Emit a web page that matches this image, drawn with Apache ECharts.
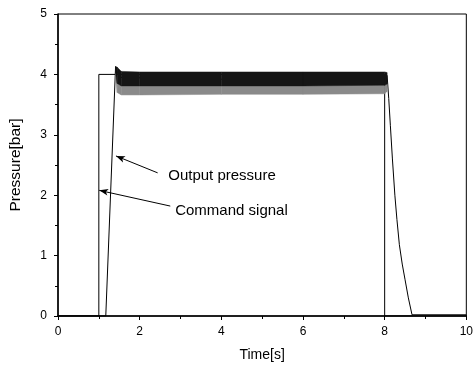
<!DOCTYPE html>
<html>
<head>
<meta charset="utf-8">
<script src="https://cdn.jsdelivr.net/npm/echarts@6/dist/echarts.min.js"></script>
<style>
html,body{margin:0;padding:0;background:#fff;}
#chart{width:476px;height:367px;}
</style>
</head>
<body>
<div id="chart"></div>
<script>
// ---- data ----
const xTicks = [0, 2, 4, 6, 8, 10];
const yTicks = [0, 1, 2, 3, 4, 5];

// Command signal (step)
const commandTimes  = [0, 1.0, 1.0, 8.0, 8.0, 10];
const commandValues = [0, 0,   4.0, 4.0, 0,   0];

// Output pressure: rise part (the ripple plateau is drawn as an envelope band)
const outputRiseTimes  = [0, 1.17, 1.41, 1.5, 4.0, 8.0, 8.06];
const outputRiseValues = [0, 0,    4.13, 3.95, 3.92, 3.92, 3.98];
// Output pressure: decay after the command drops
const outputDecayTimes  = [8.06, 8.1, 8.14, 8.19, 8.25, 8.3, 8.36, 8.43, 8.5, 8.58, 8.67, 10];
const outputDecayValues = [3.98, 3.6, 3.15, 2.6,  2.0,  1.6, 1.18, 0.86, 0.6, 0.3,  0.02, 0.02];

// Ripple envelope of the output pressure on the plateau
const bandTimes      = [1.41, 1.45, 1.55, 2.0, 4.0, 6.0, 8.0, 8.06];
const bandUpper      = [4.13, 4.12, 4.05, 4.04, 4.04, 4.04, 4.04, 4.03];
const bandDarkLower  = [4.02, 3.85, 3.81, 3.81, 3.81, 3.81, 3.82, 3.84];
const bandLightLower = [3.98, 3.70, 3.66, 3.66, 3.67, 3.67, 3.68, 3.72];

// annotation anchors (data coords): arrow tip, arrow tail, text start
const annOutput  = {tip: [1.42, 2.65], tail: [2.44, 2.37], text: [2.70, 2.32], label: 'Output pressure'};
const annCommand = {tip: [1.01, 2.08], tail: [2.75, 1.82], text: [2.87, 1.74], label: 'Command signal'};

// ---- build ----
const zip = (xs, ys) => xs.map((x, i) => [x, ys[i]]);
const FONT = 'Liberation Sans, Arial, sans-serif';

function bandSeries(name, upper, lower, color) {
  const data = bandTimes.map((t, i) => [t, upper[i], lower[i]]);
  return {
    name: name, type: 'custom', z: 4, silent: true,
    encode: {x: 0, y: [1, 2]},
    data: data,
    renderItem: function (params, api) {
      const i = params.dataIndex;
      if (i >= data.length - 1) return null;
      const a = data[i], b = data[i + 1];
      const pts = [
        api.coord([a[0], a[1]]), api.coord([b[0], b[1]]),
        api.coord([b[0], b[2]]), api.coord([a[0], a[2]])
      ];
      return {
        type: 'polygon',
        shape: {points: pts},
        style: {fill: color, stroke: color, lineWidth: 0.5}
      };
    }
  };
}

function arrowLine(a) {
  return [{coord: a.tip}, {coord: a.tail}];
}
function textPoint(a) {
  return {coord: a.text, value: a.label};
}

const chart = echarts.init(document.getElementById('chart'), null, {renderer: 'canvas'});
chart.setOption({
  animation: false,
  backgroundColor: '#fff',
  grid: {left: 57, right: 5, top: 14, bottom: 46, show: true, borderColor: '#000', borderWidth: 1, backgroundColor: 'transparent'},
  xAxis: {
    type: 'value', min: xTicks[0], max: xTicks[xTicks.length - 1], interval: 2,
    name: 'Time[s]', nameLocation: 'middle', nameGap: 32,
    nameTextStyle: {fontFamily: FONT, fontSize: 14, color: '#000'},
    axisLine: {show: true, lineStyle: {color: '#000', width: 1.5}},
    axisTick: {show: true, length: 4, inside: false, lineStyle: {color: '#000', width: 1}},
    minorTick: {show: true, splitNumber: 2, length: 3, lineStyle: {color: '#000', width: 1}},
    axisLabel: {fontFamily: FONT, fontSize: 12, color: '#000', margin: 10},
    splitLine: {show: false}
  },
  yAxis: {
    type: 'value', min: yTicks[0], max: yTicks[yTicks.length - 1], interval: 1,
    name: 'Pressure[bar]', nameLocation: 'middle', nameGap: 34, nameRotate: 90,
    nameTextStyle: {fontFamily: FONT, fontSize: 15.5, color: '#000'},
    axisLine: {show: true, lineStyle: {color: '#000', width: 1.5}},
    axisTick: {show: true, length: 4, inside: false, lineStyle: {color: '#000', width: 1}},
    minorTick: {show: true, splitNumber: 2, length: 3, lineStyle: {color: '#000', width: 1}},
    axisLabel: {fontFamily: FONT, fontSize: 12, color: '#000', margin: 11},
    splitLine: {show: false}
  },
  series: [
    {
      name: 'Command signal', type: 'line', data: zip(commandTimes, commandValues),
      showSymbol: false, symbol: 'none', lineStyle: {color: '#000', width: 1}, z: 3,
      markLine: {
        silent: true, symbol: ['arrow', 'none'], symbolSize: [5, 9],
        lineStyle: {color: '#000', width: 1, type: 'solid'}, label: {show: false},
        data: [arrowLine(annOutput), arrowLine(annCommand)]
      },
      markPoint: {
        silent: true, symbol: 'circle', symbolSize: 0,
        label: {show: true, position: 'right', distance: 0, formatter: p => p.value,
                fontFamily: FONT, fontSize: 15, color: '#000'},
        data: [textPoint(annOutput), textPoint(annCommand)]
      }
    },
    {
      name: 'Output pressure', type: 'line', data: zip(outputRiseTimes, outputRiseValues),
      showSymbol: false, symbol: 'none', lineStyle: {color: '#000', width: 1}, z: 3
    },
    {
      name: 'Output pressure', type: 'line', data: zip(outputDecayTimes, outputDecayValues),
      showSymbol: false, symbol: 'none',
      lineStyle: {color: '#000', width: 1}, z: 3
    },
    bandSeries('ripple light', bandDarkLower, bandLightLower, '#8a8a8a'),
    bandSeries('ripple dark', bandUpper, bandDarkLower, '#151515')
  ]
});
</script>
</body>
</html>
